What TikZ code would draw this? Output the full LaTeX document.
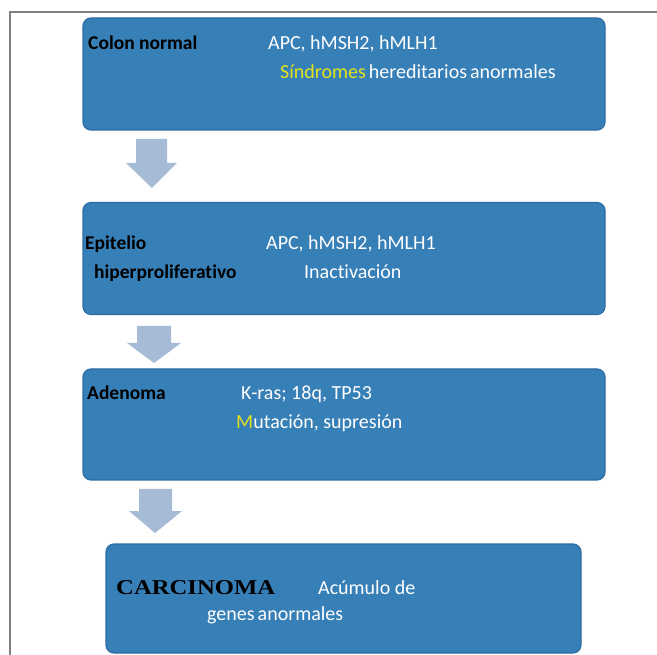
\documentclass[tikz,border=0pt]{standalone}
\usepackage{fontspec}
\setmainfont{Carlito}[Ligatures={NoCommon}]
\newfontfamily\capsfont{Liberation Serif}
\definecolor{boxblue}{HTML}{377FB7}
\definecolor{boxedge}{HTML}{2C6CA3}
\definecolor{arrowblue}{HTML}{A6BBD6}
\definecolor{frame}{HTML}{7F7F7F}
\definecolor{ylw}{HTML}{E3E31C}
\tikzset{
  x=1pt, y=1pt,
  box/.style={draw=boxedge, line width=1.2pt, fill=boxblue, rounded corners=8pt, inner sep=0pt},
  lab/.style={anchor=base west, inner sep=0pt, font=\fontsize{19.5}{22}\selectfont\bfseries, text=black},
  txt/.style={anchor=base west, inner sep=0pt, font=\fontsize{20}{22}\selectfont, text=white},
  blockarrow/.style={fill=arrowblue, draw=none},
}
\begin{document}
\begin{tikzpicture}
\useasboundingbox (0,0) rectangle (657,-655);
\fill[white] (0,0) rectangle (657,-655);
\draw[frame, line width=1.5pt] (657,-12) -- (10,-12) -- (10,-656);
% boxes
\node[box, minimum width=522pt, minimum height=112pt] (b1) at (344,-74) {};
\node[box, minimum width=522pt, minimum height=112pt] (b2) at (344,-258.5) {};
\node[box, minimum width=522pt, minimum height=111pt] (b3) at (344,-424.5) {};
\node[box, minimum width=475pt, minimum height=109pt] (b4) at (343.5,-598.5) {};
% arrows
\fill[blockarrow] (136,-139) -- (167,-139) -- (167,-163) -- (177,-163) -- (152,-188) -- (126,-163) -- (136,-163) -- cycle;
\fill[blockarrow] (137,-326) -- (171,-326) -- (171,-343) -- (181,-343) -- (154,-363) -- (127,-343) -- (137,-343) -- cycle;
\fill[blockarrow] (139,-489) -- (172,-489) -- (172,-511) -- (182,-511) -- (155,-533) -- (129,-511) -- (139,-511) -- cycle;
% box 1 texts
\node[lab] (t1a) at (88,-50) {Colon normal};
\node[txt] (t1b) at (268,-50) {APC, hMSH2, hMLH1};
\node[txt] (t1c) at (280,-79) {\textcolor{ylw}{Síndromes}\hspace{3pt}hereditarios\hspace{3pt}anormales};
% box 2 texts
\node[lab] (t2a) at (85,-250) {Epitelio};
\node[lab] (t2b) at (94,-279) {hiperproliferativo};
\node[txt] (t2c) at (266,-250) {APC, hMSH2, hMLH1};
\node[txt] (t2d) at (304,-279) {Inactivación};
% box 3 texts
\node[lab] (t3a) at (87,-400) {Adenoma};
\node[txt] (t3b) at (241,-400) {K-ras; 18q, TP53};
\node[txt] (t3c) at (236,-429) {\textcolor{ylw}{M}utación, supresión};
% box 4 texts
\node[anchor=base west, inner sep=0pt, text=black] (t4a) at (116,-594) {\resizebox{159pt}{14pt}{\capsfont\bfseries CARCINOMA}};
\node[txt] (t4b) at (318,-594) {Acúmulo de};
\node[txt] (t4c) at (207,-620) {genes\hspace{3pt}anormales};
\end{tikzpicture}
\end{document}
